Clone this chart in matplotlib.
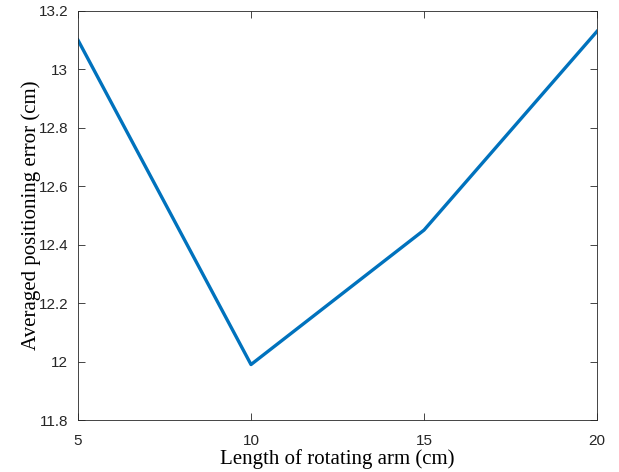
import matplotlib
matplotlib.use('Agg')
import matplotlib.pyplot as plt

arm_len = [5, 10, 15, 20]
pos_err = [13.10, 11.99, 12.45, 13.13]
xticks = [5, 10, 15, 20]
yticks = [11.8, 12, 12.2, 12.4, 12.6, 12.8, 13, 13.2]
ytick_labels = ['11.8', '12', '12.2', '12.4', '12.6', '12.8', '13', '13.2']

fig = plt.figure(figsize=(6.19, 4.72), dpi=100)
ax = fig.add_axes([0.126, 0.110, 0.8385, 0.867])
ax.plot(arm_len, pos_err, color='#0072BD', linewidth=2.4)

ax.set_xlim(5, 20)
ax.set_ylim(11.8, 13.2)
ax.set_xticks(xticks)
ax.set_yticks(yticks)
ax.set_yticklabels(ytick_labels)
for lab in ax.get_xticklabels() + ax.get_yticklabels():
    lab.set_family('Liberation Sans')
    lab.set_fontsize(11)
ax.tick_params(direction='in', top=True, right=True, length=5, width=0.6, colors='#262626')
ax.tick_params(axis='x', pad=10)
ax.tick_params(axis='y', pad=7)
for s in ax.spines.values():
    s.set_color('#262626')
    s.set_linewidth(0.6)

ax.set_xlabel('Length of rotating arm (cm)', family='Liberation Serif', fontsize=15, labelpad=1)
ax.set_ylabel('Averaged positioning error (cm)', family='Liberation Serif', fontsize=15, labelpad=-2)

fig.savefig('out.png', dpi=100)
